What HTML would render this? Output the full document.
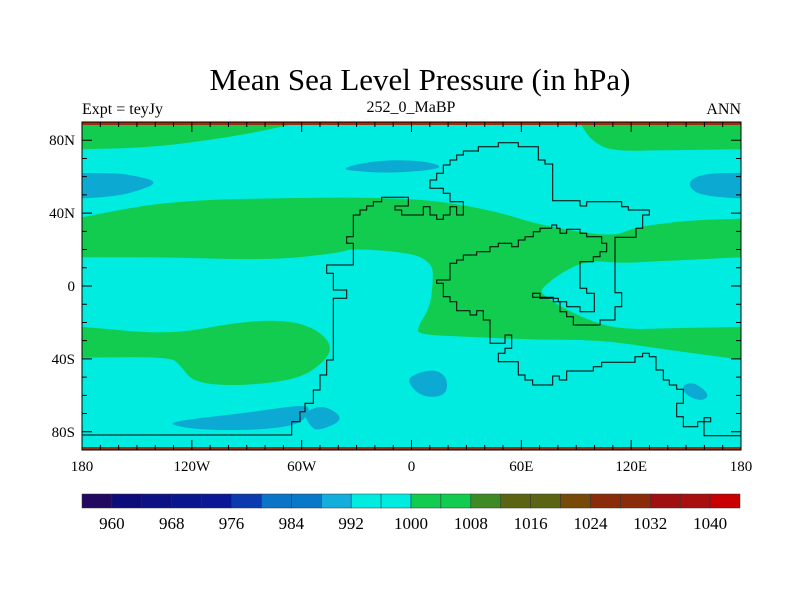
<!DOCTYPE html>
<html><head><meta charset="utf-8"><style>
body{margin:0;background:#fff;}
svg{display:block;font-family:"Liberation Serif",serif;}
</style></head><body>
<svg id="chart" width="800" height="600" viewBox="0 0 800 600" xmlns="http://www.w3.org/2000/svg">
<rect width="800" height="600" fill="#fff"/>
<text x="420" y="90" font-size="31" text-anchor="middle">Mean Sea Level Pressure (in hPa)</text>
<text x="82" y="114" font-size="16">Expt = teyJy</text>
<text x="411" y="112" font-size="16" text-anchor="middle">252_0_MaBP</text>
<text x="741" y="114" font-size="16" text-anchor="end">ANN</text>
<defs><clipPath id="mapclip"><rect x="82" y="122" width="659" height="328"/></clipPath></defs>
<g id="map" clip-path="url(#mapclip)"></g>
<g id="axes"></g>
<g id="cbar"></g>
</svg>
<script>
// colorbar data
const levels = [960,964,968,972,976,980,984,988,992,996,1000,1004,1008,1012,1016,1020,1024,1028,1032,1036,1040];
const levelLabels = [960,968,976,984,992,1000,1008,1016,1024,1032,1040];
const levelColors = ["#22085e","#0c0c7a","#0c1284","#0a168e","#0a1896","#0c3aae","#0a74c6","#0a78c8","#14aedc","#00ece0","#00ece0","#12cc50","#12cc50","#408a26","#5a6412","#5a6412","#784a0a","#8a2c0a","#8a2c0a","#a01010","#a81010","#c80000"];
// map axis ticks
const latLabels = [80,40,0,-40,-80];
const lonLabels = [-180,-120,-60,0,60,120,180];
// contour regions (lon, lat)
const CYAN="#00ece0", GREEN="#12cc50", BLUE="#0caad2";
const greenTopLeft = [[-180,90],[-180,75],[-142,76],[-104,81],[-82,85],[-66,88.5],[-66,90]];
const greenTopRight = [[93,90],[93,88],[98,80],[109,74],[140,74.5],[180,75],[180,90]];
const blueLeft = [[-180,62],[-165,62],[-153,61],[-137,57],[-153,51],[-165,49],[-180,48]];
const blueRight = [[180,62],[165,62],[155,60],[151,56],[155,51],[165,49],[180,48]];
const blueNorth = [[-38,64],[-30,67],[-15,69],[0,69],[12,67.5],[17,65],[5,63],[-15,62],[-30,63]];
const greenMain = [[-180,37.7],[-131.6,47],[-60,48.4],[-22.4,48.6],[14.2,47],[48.6,40.4],[70.4,33.3],[110.3,26.8],[121.2,32.2],[150.7,36],[180,37],[180,15.8],[125,13.1],[114,12.6],[96,14.2],[81.4,7.1],[72,-0.5],[70.4,-3.8],[79.7,-10.4],[96,-18.6],[114,-24],[147,-23],[180,-22.4],[180,-40.4],[140,-35],[103,-29.5],[66.6,-29.5],[30.6,-27.8],[3.8,-26.8],[3.3,-22.4],[10.4,-11.5],[12,7.1],[10.4,12.6],[1.1,18],[-31.7,20.7],[-40.4,18],[-77,14.2],[-131.6,15.8],[-180,15.8]];
const greenSouth = [[-180,-22.4],[-131.6,-26.8],[-95,-19.7],[-67.7,-18.6],[-51.3,-24],[-43,-33.3],[-48,-42],[-62,-51.3],[-95,-55],[-119,-53],[-126,-44],[-131.6,-38.8],[-180,-39.3]];
const blueSA = [[-133,-76],[-126,-73.7],[-88,-69.3],[-59,-65],[-55,-67.7],[-60.6,-76],[-82.4,-79],[-115,-79]];
const blueSB = [[-59,-69.3],[-48,-65],[-36,-73],[-51.3,-80],[-56,-76]];
const blueSC = [[-3.3,-51.3],[5,-47],[14.2,-46],[20,-51.3],[18.6,-60.6],[5,-61]];
const blueSD = [[147,-55],[154,-52.4],[163,-59.5],[159,-63.3],[150.7,-60.6]];
const regions = [
 ["green-top-left",greenTopLeft,GREEN],["green-top-right",greenTopRight,GREEN],
 ["blue-low-west",blueLeft,BLUE],["blue-low-east",blueRight,BLUE],["blue-low-north",blueNorth,BLUE],
 ["green-high-main",greenMain,GREEN],["green-high-south",greenSouth,GREEN],
 ["blue-low-south-a",blueSA,BLUE],["blue-low-south-b",blueSB,BLUE],["blue-low-south-c",blueSC,BLUE],["blue-low-south-d",blueSD,BLUE]];
// coastline outline (traced in reference zoom frames)
const coastZ1 = [[38,1005],[665,1005],[665,965],[690,965],[690,935],[705,935],[705,910],[730,910],[730,870],[750,870],[750,825],[770,825],[770,780],[790,780],[790,595],[830,595],[830,570],[790,570],[790,520],[770,520],[770,495],[850,495],[850,430],[830,430],[830,410],[850,410],[850,345],[870,345],[870,330],[890,330],[890,318],[910,318],[910,305],[935,305],[935,292],[1015,292],[1015,318],[975,318],[975,330],[995,330],[995,345],[1060,345],[1060,320],[1080,320],[1080,345],[1100,345],[1100,358],[1120,358],[1120,345],[1140,345],[1140,320],[1160,320],[1160,345],[1180,345],[1180,305],[1140,305],[1140,280],[1120,280],[1120,265],[1080,265],[1080,240],[1100,240],[1100,220],[1120,220],[1120,195],[1140,195],[1140,180],[1160,180],[1160,165],[1180,165],[1180,153],[1225,153]];
const coastZ2 = [[235,155],[235,140],[295,140],[295,128],[355,128],[355,140],[415,140],[415,180],[435,180],[435,192],[458,192],[458,302],[540,302],[540,318],[560,318],[560,305],[665,305],[665,320],[685,320],[685,330],[748,330],[748,345],[728,345],[728,385],[708,385],[708,412],[645,412],[645,578],[665,578],[665,620],[645,620],[645,660],[600,660],[600,675],[520,675],[520,650],[500,650],[500,635],[480,635],[480,605],[460,605],[460,592],[398,592],[398,580],[420,580],[420,595],[475,595],[475,605],[500,605],[500,620],[540,620],[540,635],[583,635],[583,580],[560,580],[560,565],[540,565],[540,485],[580,485],[580,470],[600,470],[600,455],[620,455],[620,430],[605,430],[605,410],[560,410],[560,400],[540,400],[540,388],[500,388],[500,400],[480,400],[480,385],[470,385],[470,375],[455,375],[455,385],[420,385],[420,395],[400,395],[400,410],[375,410],[375,420],[355,420],[355,440],[335,440],[335,430],[295,430],[295,440],[270,440],[270,455],[230,455],[230,465],[190,465],[190,480],[170,480],[170,490],[150,490],[150,540],[110,540],[110,550],[130,550],[130,590],[150,590],[150,605],[170,605],[170,632],[210,632],[210,645],[230,645],[230,632],[250,632],[250,660],[270,660],[270,730],[315,730],[315,705],[335,705],[335,745],[315,745],[315,760],[295,760],[295,785],[355,785],[355,825],[375,825],[375,840],[398,840],[398,855],[458,855],[458,828],[478,828],[478,840],[500,840],[500,813],[580,813],[580,800],[605,800],[605,787],[705,787],[705,770],[728,770],[728,760],[748,760],[748,770],[768,770],[768,810],[790,810],[790,840],[808,840],[808,855],[830,855],[830,868],[850,868],[850,910],[830,910],[830,950],[850,950],[850,980],[893,980],[893,965],[912,965],[912,953],[932,953],[932,965],[912,965],[912,1007],[1025,1007]];

const NS="http://www.w3.org/2000/svg";
const X0=82,X1=741,Y0=122,Y1=450;
function xs(lon){return X0+(lon+180)/360*(X1-X0);}
function ys(lat){return Y0+(90-lat)/180*(Y1-Y0);}
function mk(tag,attrs,parent){const e=document.createElementNS(NS,tag);for(const k in attrs)e.setAttribute(k,attrs[k]);parent.appendChild(e);return e;}
function isEdge(q){return Math.abs(q[0])>=180||Math.abs(q[1])>=88;}
function f(p){return p[0].toFixed(1)+','+p[1].toFixed(1);}
function smoothPath(pts){
  const P=pts.map(q=>[xs(q[0]),ys(q[1])]);const n=P.length;
  const mid=(a,b)=>[(a[0]+b[0])/2,(a[1]+b[1])/2];
  let d='M'+f(mid(P[n-1],P[0]));
  for(let i=0;i<n;i++){
    const c=P[i],nx=P[(i+1)%n],m=mid(c,nx);
    const edge=isEdge(pts[i]);
    if(edge){d+='L'+f(c)+'L'+(isEdge(pts[(i+1)%n])?f(nx):f(m));}
    else{d+='Q'+f(c)+' '+f(m);}
  }
  return d+'Z';
}
const map=document.getElementById('map'), axes=document.getElementById('axes'), cbar=document.getElementById('cbar');
let bg=mk('rect',{x:X0,y:Y0,width:X1-X0,height:Y1-Y0,fill:CYAN},map);


for(const [name,pts,col] of regions){
  const p=mk('path',{d:smoothPath(pts),fill:col},map);
  
  
}
for(const [y,nm] of [[Y0,'north-pole-band'],[Y1-3,'south-pole-band']]){
  const r=mk('rect',{x:X0,y:y,width:X1-X0,height:3,fill:'#9a3010'},map);
  
  
}
const cpts=coastZ1.map(p=>[70+p[0]/3,100+p[1]/3]).concat(coastZ2.map(p=>[400+p[0]/3,100+p[1]/3]));
const coast=mk('polyline',{points:cpts.map(p=>p[0].toFixed(1)+','+p[1].toFixed(1)).join(' '),fill:'none',stroke:'#000','stroke-width':1},map);


const fr=mk('rect',{x:X0,y:Y0,width:X1-X0,height:Y1-Y0,fill:'none',stroke:'#000','stroke-width':1},axes);


let d='';
for(let lat=-90;lat<=90;lat+=10){const y=ys(lat);const L=(lat%40===0)?10:5;d+=`M${X0},${y}h${L}M${X1},${y}h${-L}`;}
for(let lon=-180;lon<=180;lon+=10){const x=xs(lon);const L=(lon%60===0)?10:5;d+=`M${x},${Y0}v${L}M${x},${Y1}v${-L}`;}
const tk=mk('path',{d:d,stroke:'#000','stroke-width':1,fill:'none'},axes);


for(const lat of latLabels){
  const t=mk('text',{x:75,y:ys(lat)+5,'font-size':15,'text-anchor':'end'},axes);
  t.textContent=lat===0?'0':(Math.abs(lat)+(lat>0?'N':'S'));
  
  
}
for(const lon of lonLabels){
  const t=mk('text',{x:xs(lon),y:471,'font-size':15,'text-anchor':'middle'},axes);
  t.textContent=(lon===0||Math.abs(lon)===180)?String(Math.abs(lon)):(Math.abs(lon)+(lon>0?'E':'W'));
  
  
}
const CB0=82,CB1=740,CBY=494,CBH=14,n=levelColors.length,bw=(CB1-CB0)/n;
levelColors.forEach((c,i)=>{
  const r=mk('rect',{x:CB0+i*bw,y:CBY,width:bw,height:CBH,fill:c,stroke:'#333','stroke-width':0.5},cbar);
  
  
});
levelLabels.forEach(v=>{
  const i=levels.indexOf(v);
  const t=mk('text',{x:CB0+(i+1)*bw,y:529,'font-size':17,'text-anchor':'middle'},cbar);
  t.textContent=v;
  
  
});
</script>
</body></html>
